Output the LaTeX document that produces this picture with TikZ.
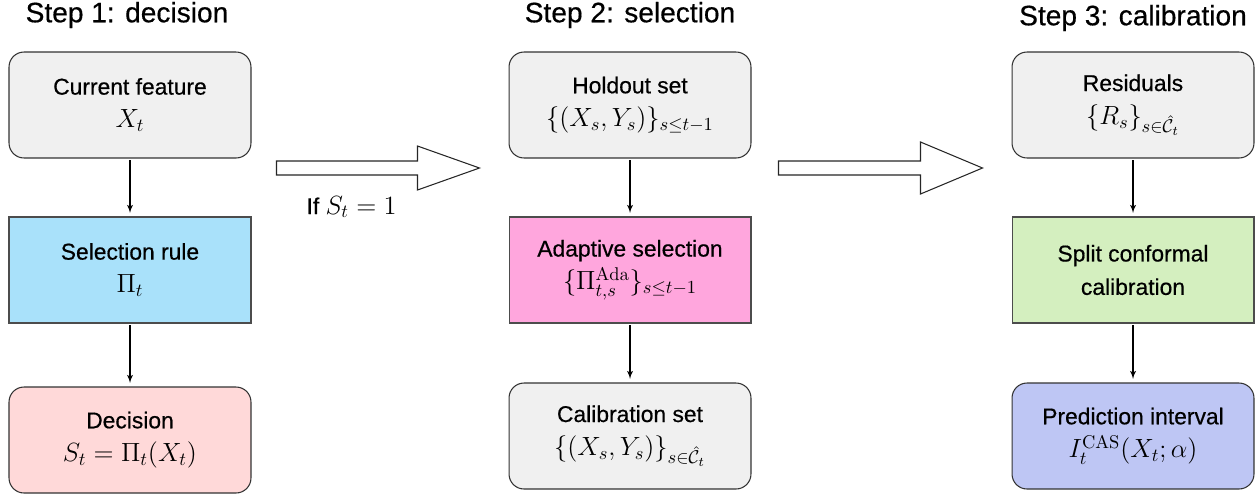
\RequirePackage{fix-cm}
\documentclass[tikz,border=0pt]{standalone}
\usepackage{amsmath,amssymb}
\usepackage[no-math]{fontspec}
\setmainfont{Liberation Sans}[FakeBold=0.5]
\usetikzlibrary{arrows,calc}

\definecolor{boxgray}{HTML}{F0F0F0}
\definecolor{selblue}{HTML}{A9E1FA}
\definecolor{decred}{HTML}{FFD9D9}
\definecolor{adapink}{HTML}{FFA6DD}
\definecolor{splitgreen}{HTML}{D4EFBF}
\definecolor{predblue}{HTML}{BEC6F4}

\newcommand{\mathline}[1]{{\fontsize{15}{19}\selectfont$#1$}}

\tikzset{
  title/.style={font=\fontsize{16}{19}\selectfont},
  card/.style={minimum width=4.84cm, minimum height=2.12cm, align=center,
    font=\fontsize{13}{19}\selectfont, line width=0.6pt},
  rbox/.style={card, draw=black!80, rounded corners=0.3cm},
  sbox/.style={card, draw=black!70},
  fat/.style={draw=black!85, fill=white, line width=0.6pt},
  flow/.style={->, line width=0.6pt, shorten <=1pt, shorten >=2pt}
}

\newcommand{\fatarrow}[3]{% start, end, half width of head
  \draw[fat] ($(#1)+(0,-7)$) -- ($(#2)+(-62,-7)$) -- ($(#2)+(-62,-#3)$) -- (#2)
    -- ($(#2)+(-62,#3)$) -- ($(#2)+(-62,7)$) -- ($(#1)+(0,7)$) -- cycle;}

\begin{document}
\begin{tikzpicture}[x=0.02cm, y=-0.02cm, >=latex']
\useasboundingbox (0,0) rectangle (1260,498);

% step 1
\node[title] at (127,15) (t1) {Step 1: decision};
\node[rbox, fill=boxgray] at (130,105) (feat) {Current feature\\ \mathline{X_t}};
\node[sbox, fill=selblue] at (130,270) (rule) {Selection rule\\ \mathline{\Pi_t}};
\node[rbox, fill=decred] at (130,440) (dec) {Decision\\ \mathline{S_t = \Pi_t(X_t)}};
\draw[flow] (feat) -- (rule);
\draw[flow] (rule) -- (dec);

% step 2
\node[title] at (630,15) (t2) {Step 2: selection};
\node[rbox, fill=boxgray] at (630,105) (hold) {Holdout set\\ \mathline{\{(X_s, Y_s)\}_{s\le t-1}}};
\node[sbox, fill=adapink] at (630,270) (ada) {Adaptive selection\\ \mathline{\{\Pi_{t,s}^{\mathrm{Ada}}\}_{s\le t-1}}};
\node[rbox, fill=boxgray] at (630,436) (cal) {Calibration set\\ \mathline{\{(X_s, Y_s)\}_{s\in\hat{\mathcal{C}}_t}}};
\draw[flow] (hold) -- (ada);
\draw[flow] (ada) -- (cal);

% step 3
\node[title] at (1133,18) (t3) {Step 3: calibration};
\node[rbox, fill=boxgray] at (1133,105) (resid) {Residuals\\ \mathline{\{R_s\}_{s\in\hat{\mathcal{C}}_t}}};
\node[sbox, fill=splitgreen] at (1133,270) (split) {Split conformal\\ calibration};
\node[rbox, fill=predblue] at (1133,436) (pred) {Prediction interval\\ \mathline{I_t^{\mathrm{CAS}}(X_t; \alpha)}};
\draw[flow] (resid) -- (split);
\draw[flow] (split) -- (pred);

% block arrows between steps
\coordinate (a1s) at ($(feat.east)+(25,63)$);
\coordinate (a1e) at ($(hold.west)+(-29,63)$);
\fatarrow{a1s}{a1e}{22}
\node at ($(a1s)!0.37!(a1e)+(0,39)$) (cond) {\fontsize{13}{16}\selectfont If \mathline{S_t = 1}};

\coordinate (a2s) at ($(hold.east)+(27,63)$);
\coordinate (a2e) at ($(resid.west)+(-29,63)$);
\fatarrow{a2s}{a2e}{26}

\end{tikzpicture}
\end{document}
